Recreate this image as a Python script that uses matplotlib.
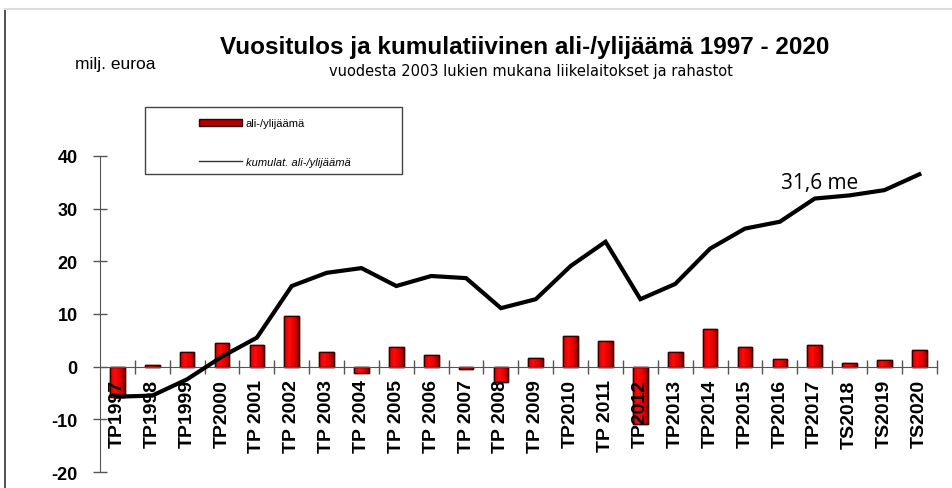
import matplotlib.pyplot as plt
from matplotlib.lines import Line2D
from matplotlib.patches import Rectangle, Patch
from matplotlib.colors import LinearSegmentedColormap
import numpy as np

# vuosittainen tulos ja kumulatiivinen ali-/ylijäämä, milj. euroa
vuodet = ["TP1997", "TP1998", "TP1999", "TP2000", "TP 2001", "TP 2002", "TP 2003",
          "TP 2004", "TP 2005", "TP 2006", "TP 2007", "TP 2008", "TP 2009", "TP2010",
          "TP 2011", "TP2012", "TP2013", "TP2014", "TP2015", "TP2016", "TP2017",
          "TS2018", "TS2019", "TS2020"]
ylijaama = [-5.7, 0.3, 2.7, 4.5, 4.1, 9.6, 2.7, -1.3, 3.8, 2.2, -0.4, -3.0, 1.7, 5.9,
            4.8, -10.9, 2.7, 7.1, 3.8, 1.4, 4.1, 0.6, 1.2, 3.1]
kumulat = [-5.7, -5.5, -2.4, 1.9, 5.5, 15.3, 17.8, 18.7, 15.3, 17.2, 16.8, 11.1, 12.8,
           19.1, 23.7, 12.8, 15.7, 22.4, 26.2, 27.5, 31.9, 32.5, 33.5, 36.5]
y_ticks = [-20, -10, 0, 10, 20, 30, 40]

plt.rcParams['font.family'] = ['Liberation Sans', 'DejaVu Sans']

fig = plt.figure(figsize=(9.52, 4.89), dpi=100)
ax = fig.add_axes([0.105, 0.0327, 0.879, 0.6465])

x = np.arange(len(vuodet))
bars = ax.bar(x, ylijaama, width=0.42, color='#e00000', edgecolor='#3a0000',
              linewidth=1, zorder=1)

# pylväisiin vaakasuuntainen liukuväri, tumma oikeassa reunassa
punainen = LinearSegmentedColormap.from_list(
    'pun', ['#d00000', '#ff0a0a', '#e80000', '#8c0000'])
grad = np.linspace(0, 1, 64).reshape(1, -1)
for b in bars:
    x0, y0 = b.get_x(), b.get_y()
    w, h = b.get_width(), b.get_height()
    lo, hi = min(y0, y0 + h), max(y0, y0 + h)
    im = ax.imshow(grad, cmap=punainen, aspect='auto', origin='lower',
                   extent=(x0, x0 + w, lo, hi), zorder=1.1)
    im.set_clip_path(b)
    ax.add_patch(Rectangle((x0, y0), w, h, fill=False, edgecolor='#3a0000',
                           linewidth=1, zorder=1.2))

ax.plot(x, kumulat, color='black', linewidth=3, solid_joinstyle='miter', zorder=3)

ax.set_xlim(-0.5, len(vuodet) - 0.5)
ax.set_ylim(-20, 40)

for s in ['top', 'right']:
    ax.spines[s].set_visible(False)
ax.spines['bottom'].set_position(('data', 0))
ax.spines['left'].set_color('#555555')
ax.spines['bottom'].set_color('#555555')

ax.set_yticks(y_ticks)
ax.set_yticklabels([str(v) for v in y_ticks], fontsize=13, fontweight='bold')
ax.tick_params(axis='y', direction='inout', length=10, width=1, color='#555555', pad=11)

ax.set_xticks(x)
ax.set_xticklabels(vuodet, rotation=90, fontsize=14, fontweight='bold', va='top')
ax.set_xticks(np.arange(0.5, len(vuodet)), minor=True)
ax.tick_params(axis='x', which='major', length=0, pad=9)
ax.tick_params(axis='x', which='minor', direction='inout', length=10, width=1, color='#555555')

ax.text(20.13, 35.0, "31,6 me", fontsize=15, family='Open Sans', ha='center', va='center')

fig.text(0.551, 0.903, "Vuositulos ja kumulatiivinen ali-/ylijäämä 1997 - 2020",
         fontsize=17.5, fontweight='bold', ha='center', va='center')
fig.text(0.558, 0.853, "vuodesta 2003 lukien mukana liikelaitokset ja rahastot",
         fontsize=10.5, family='DejaVu Sans', ha='center', va='center')
fig.text(0.079, 0.868, "milj. euroa", fontsize=12.5, ha='left', va='center')

# selitelaatikko
fig.patches.append(Rectangle((0.152, 0.642), 0.27, 0.137, transform=fig.transFigure,
                             facecolor='white', edgecolor='#444444', linewidth=1))
handles = [Patch(facecolor='#b00000', edgecolor='#3a0000', linewidth=1),
           Line2D([], [], color='#333333', linewidth=1)]
leg = fig.legend(handles, ["ali-/ylijäämä", "kumulat. ali-/ylijäämä"],
                 loc='upper left', bbox_to_anchor=(0.209, 0.756), frameon=False,
                 fontsize=8, handlelength=3.9, handleheight=0.6, handletextpad=0.3,
                 labelspacing=2.6, borderpad=0, borderaxespad=0)
leg.get_texts()[1].set_fontstyle('italic')

# kuvan reunaviivat
fig.add_artist(Line2D([0.005, 0.005], [0, 0.98], transform=fig.transFigure,
                      color='#333333', linewidth=1.2))
fig.add_artist(Line2D([0.005, 1], [0.98, 0.98], transform=fig.transFigure,
                      color='#dddddd', linewidth=1.5))

fig.savefig("out.png", dpi=100)
